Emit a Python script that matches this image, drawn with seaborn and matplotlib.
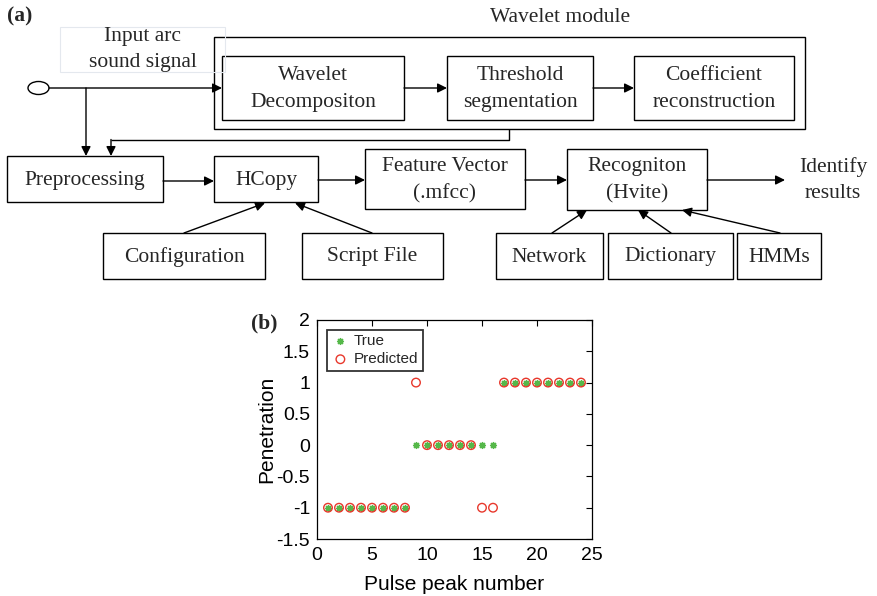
import numpy as np
import pandas as pd
import seaborn as sns
import matplotlib
matplotlib.use("Agg")
import matplotlib.pyplot as plt
from matplotlib.patches import Rectangle, Ellipse

# ---------------- data (panel b) ----------------
pulse_number = list(range(1, 25))
true_values = [-1] * 8 + [0] * 8 + [1] * 8
predicted_values = [-1] * 8 + [1] + [0] * 5 + [-1, -1] + [1] * 8
x_ticks = [0, 5, 10, 15, 20, 25]
y_ticks = [-1.5, -1, -0.5, 0, 0.5, 1, 1.5, 2]
y_tick_labels = ["-1.5", "-1", "-0.5", "0", "0.5", "1", "1.5", "2"]

# ---------------- flowchart text ----------------
box_texts = {
    "wd": "Wavelet\nDecompositon",
    "ts": "Threshold\nsegmentation",
    "cr": "Coefficient\nreconstruction",
    "pre": "Preprocessing",
    "hc": "HCopy",
    "fv": "Feature Vector\n(.mfcc)",
    "rec": "Recogniton\n(Hvite)",
    "conf": "Configuration",
    "sf": "Script File",
    "net": "Network",
    "dic": "Dictionary",
    "hmm": "HMMs",
}

sns.set_theme(style="white")
plt.rcParams["font.family"] = ["Liberation Sans", "DejaVu Sans"]

W, H = 877, 596
fig = plt.figure(figsize=(W / 100, H / 100), dpi=100)

# ---------------- panel (a): flowchart ----------------
ax0 = fig.add_axes([0, 0, 1, 1])
ax0.set_xlim(0, W)
ax0.set_ylim(H, 0)
ax0.axis("off")

serif = ["Liberation Serif", "DejaVu Serif"]
fs = 15.5
LW = 1.0

# box geometry (x0, y0, x1, y1) in pixel layout
boxes = {
    "wd": (222, 56, 404, 120),
    "ts": (447, 56, 593, 120),
    "cr": (634, 56, 794, 120),
    "pre": (7, 156, 163, 202),
    "hc": (214, 156, 318, 202),
    "fv": (365, 149, 525, 209),
    "rec": (567, 149, 707, 210),
    "conf": (103, 233, 265, 279),
    "sf": (302, 233, 443, 279),
    "net": (496, 233, 603, 279),
    "dic": (608, 233, 733, 279),
    "hmm": (737, 233, 821, 279),
}

def rect(x0, y0, x1, y1, ec="black", lw=LW):
    ax0.add_patch(Rectangle((x0, y0), x1 - x0, y1 - y0, fill=False,
                            edgecolor=ec, linewidth=lw))

for key, (x0, y0, x1, y1) in boxes.items():
    rect(x0, y0, x1, y1)
    ax0.text((x0 + x1) / 2, (y0 + y1) / 2 + 1, box_texts[key], ha="center",
             va="center", family=serif, fontsize=fs, linespacing=1.55)

# outer wavelet module box
rect(214, 37, 805, 129)
ax0.text(560, 17, "Wavelet module", ha="center", va="center",
         family=serif, fontsize=fs)

# faint label box
rect(60, 27, 225, 72, ec="#e4e8ee", lw=0.8)
ax0.text(143, 37, "Input arc", ha="center", va="center", family=serif, fontsize=fs)
ax0.text(143, 63, "sound signal", ha="center", va="center", family=serif, fontsize=fs)

# input circle
ax0.add_patch(Ellipse((38.5, 88), 21, 13, fill=False, edgecolor="black", linewidth=LW))

ax0.text(7, 16, "(a)", ha="left", va="center", family=serif,
         fontsize=fs, fontweight="bold")

# identify results
ax0.text(833, 167, "Identify", ha="center", va="center", family=serif, fontsize=fs)
ax0.text(833, 193, "results", ha="center", va="center", family=serif, fontsize=fs)

def arrow(x0, y0, x1, y1):
    ax0.annotate("", xy=(x1, y1), xytext=(x0, y0),
                 arrowprops=dict(arrowstyle="-|>", mutation_scale=14,
                                 lw=LW, color="black", shrinkA=0, shrinkB=0))

def line(xs, ys):
    ax0.plot(xs, ys, color="black", lw=LW, solid_capstyle="butt")

# signal line
arrow(49, 88, 222, 88)
arrow(86, 88, 86, 156)
arrow(404, 88, 447, 88)
arrow(593, 88, 634, 88)
# feedback line
line([509, 509, 111], [129, 139.5, 139.5])
arrow(111, 139.5, 111, 156)
# main row
arrow(163, 181, 214, 181)
arrow(318, 180, 365, 180)
arrow(525, 180, 567, 180)
arrow(707, 180, 785, 180)
# inputs
arrow(184, 233, 265, 203)
arrow(372, 233, 295, 203)
arrow(552, 233, 587, 210)
arrow(671, 233, 638, 210)
arrow(780, 233, 682, 210)

# ---------------- panel (b): scatter ----------------
ax = fig.add_axes([317 / W, 1 - 539 / H, 275 / W, 219 / H])
df = pd.DataFrame({"x": pulse_number, "true": true_values, "pred": predicted_values})

sns.scatterplot(data=df, x="x", y="true", ax=ax, marker=(8, 2, 0), s=17,
                color="#55b849", edgecolor="#55b849", linewidth=1.1,
                label="True", zorder=3)
sns.scatterplot(data=df, x="x", y="pred", ax=ax, marker="o", s=38,
                color="#e8382c", facecolors="none", edgecolor="#e8382c",
                linewidth=1.0, label="Predicted", zorder=4)

ax.set_xlim(0, 25)
ax.set_ylim(-1.5, 2)
ax.set_xticks(x_ticks)
ax.set_xticklabels([str(v) for v in x_ticks])
ax.set_yticks(y_ticks)
ax.set_yticklabels(y_tick_labels)
ax.tick_params(direction="in", length=4, width=0.8, top=True, right=True,
               labelsize=14, colors="black", pad=5)
ax.tick_params(axis="x", pad=6)
for sp in ax.spines.values():
    sp.set_visible(True)
    sp.set_color("black")
    sp.set_linewidth(0.9)
ax.set_xlabel("Pulse peak number", fontsize=15, color="black", labelpad=8)
ax.set_ylabel("Penetration", fontsize=15, color="black", labelpad=0)

leg = ax.legend(loc="upper left", bbox_to_anchor=(0.035, 0.955), fontsize=11,
                frameon=True, fancybox=False, handletextpad=0.3,
                borderpad=0.3, labelspacing=0.25, handlelength=1.2,
                borderaxespad=0)
leg.get_frame().set_edgecolor("black")
leg.get_frame().set_linewidth(1.3)

fig.text(251 / W, 1 - 323 / H, "(b)", ha="left", va="center", family=serif,
         fontsize=fs, fontweight="bold")

fig.savefig("out.png", dpi=100)
